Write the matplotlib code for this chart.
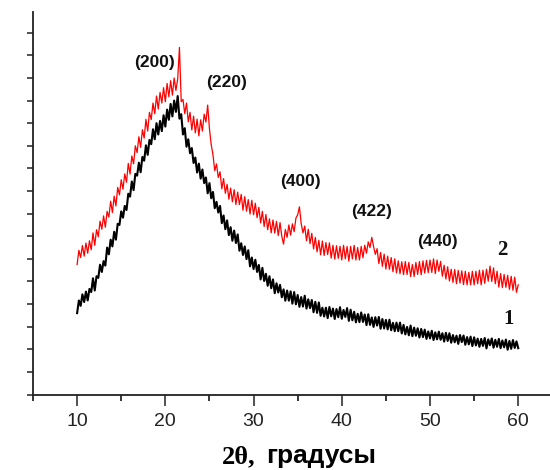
import numpy as np
import matplotlib
matplotlib.use("Agg")
from matplotlib import pyplot as plt

# scan 10..60 deg, step 0.2 (arbitrary units)
black = [
    3.6, 4.16, 3.92, 4.43, 4.09,
    4.55, 4.16, 4.67, 4.53, 5.14,
    4.6, 5.23, 5.16, 5.74, 5.42,
    5.9, 5.7, 6.5, 6.2, 6.85,
    6.55, 7.2, 6.85, 7.55, 7.5,
    8.1, 7.82, 8.34, 8.16, 8.88,
    8.75, 9.42, 9.04, 9.76, 9.68,
    10.25, 9.83, 10.51, 10.34, 11.02,
    10.6, 11.26, 11.07, 11.73, 11.29,
    12.0, 11.5, 12.1, 11.65, 12.35,
    11.85, 12.6, 12.15, 12.85, 12.3,
    13.0, 12.5, 13.2, 12.2, 12.4,
    11.5, 11.78, 10.96, 11.29, 10.67,
    10.9, 10.24, 10.48, 9.82, 10.21,
    9.55, 9.95, 9.35, 9.6, 8.9,
    9.35, 8.68, 8.96, 8.24, 8.52,
    8.05, 8.34, 7.58, 7.92, 7.31,
    7.7, 7.05, 7.4, 6.8, 7.25,
    6.7, 7.08, 6.36, 6.69, 6.17,
    6.55, 5.99, 6.38, 5.67, 6.06,
    5.55, 5.96, 5.42, 5.73, 5.09,
    5.6, 5.02, 5.34, 4.81, 5.23,
    4.7, 5.09, 4.48, 4.92, 4.51,
    4.85, 4.3, 4.65, 4.15, 4.6,
    4.15, 4.56, 4.02, 4.53, 3.99,
    4.4, 3.88, 4.31, 3.89, 4.37,
    3.8, 4.21, 3.82, 4.18, 3.64,
    4.1, 3.61, 4.07, 3.48, 3.84,
    3.45, 3.84, 3.38, 3.87, 3.46,
    3.8, 3.34, 3.78, 3.42, 3.86,
    3.35, 3.74, 3.43, 3.82, 3.26,
    3.75, 3.28, 3.66, 3.19, 3.57,
    3.2, 3.63, 3.21, 3.54, 3.07,
    3.55, 3.08, 3.41, 2.99, 3.42,
    3.05, 3.43, 2.91, 3.34, 2.92,
    3.3, 2.88, 3.31, 2.84, 3.17,
    2.8, 3.18, 2.8, 3.18, 2.7,
    3.08, 2.66, 2.99, 2.62, 3.05,
    2.58, 2.96, 2.6, 2.93, 2.52,
    2.9, 2.54, 2.87, 2.46, 2.79,
    2.48, 2.82, 2.41, 2.75, 2.44,
    2.78, 2.42, 2.71, 2.34, 2.73,
    2.37, 2.71, 2.29, 2.63, 2.31,
    2.6, 2.24, 2.63, 2.32, 2.61,
    2.2, 2.54, 2.22, 2.56, 2.14,
    2.53, 2.17, 2.47, 2.11, 2.46,
    2.15, 2.5, 2.04, 2.44, 2.18,
    2.48, 2.07, 2.42, 2.11, 2.46,
    2.05, 2.39, 2.09, 2.43, 1.98,
    2.37, 2.02, 2.41, 2.06, 2.35,
    2.05,
]

red = [
    5.75, 6.38, 6.06, 6.59, 6.12,
    6.7, 6.25, 6.8, 6.4, 7.15,
    6.6, 7.29, 6.98, 7.67, 7.31,
    7.9, 7.4, 8.1, 7.85, 8.55,
    8.05, 8.77, 8.34, 9.16, 8.83,
    9.5, 9.08, 9.76, 9.39, 10.22,
    9.75, 10.55, 10.2, 11.0, 10.7,
    11.4, 10.93, 11.71, 11.34, 12.17,
    11.65, 12.48, 12.16, 12.89, 12.42,
    13.2, 12.63, 13.36, 12.89, 13.57,
    12.95, 13.76, 13.17, 13.88, 13.24,
    14.0, 13.45, 13.95, 15.35, 12.95,
    13.05, 12.42, 12.89, 12.06, 12.48,
    11.7, 12.31, 11.57, 12.18, 11.44,
    12.15, 11.65, 12.4, 12.05, 12.8,
    11.75, 11.05, 10.6, 9.9, 10.2,
    9.6, 9.85, 9.1, 9.55, 8.9,
    9.3, 8.64, 9.13, 8.52, 9.06,
    8.4, 8.95, 8.4, 8.85, 8.15,
    8.75, 8.11, 8.62, 7.98, 8.59,
    7.95, 8.46, 7.82, 8.28, 7.59,
    8.1, 7.43, 7.96, 7.29, 7.77,
    7.15, 7.72, 7.14, 7.66, 7.03,
    7.6, 7.0, 6.65, 7.3, 6.95,
    7.5, 7.05, 7.55, 7.2, 7.8,
    7.95, 8.3, 7.55, 7.15, 7.45,
    6.8, 7.31, 6.67, 7.13, 6.44,
    6.95, 6.31, 6.82, 6.18, 6.79,
    6.15, 6.72, 6.19, 6.71, 6.03,
    6.6, 5.99, 6.58, 6.02, 6.56,
    5.95, 6.6, 6.0, 6.55, 5.9,
    6.55, 6.0, 6.6, 5.95, 6.5,
    5.95, 6.55, 6.05, 6.6, 6.25,
    6.75, 6.5, 6.95, 6.55, 6.2,
    6.45, 5.79, 6.28, 5.67, 6.21,
    5.55, 6.12, 5.54, 6.06, 5.43,
    6.0, 5.38, 5.91, 5.34, 5.87,
    5.3, 5.88, 5.31, 5.84, 5.22,
    5.75, 5.22, 5.84, 5.31, 5.88,
    5.3, 5.91, 5.37, 5.93, 5.39,
    5.95, 5.4, 6.0, 5.35, 5.95,
    5.45, 5.89, 5.23, 5.72, 5.11,
    5.65, 5.02, 5.54, 4.96, 5.53,
    4.9, 5.49, 4.93, 5.47, 4.86,
    5.45, 4.85, 5.4, 4.85, 5.45,
    4.85, 5.45, 4.9, 5.5, 4.85,
    5.5, 4.92, 5.54, 5.01, 5.68,
    5.0, 5.6, 4.9, 5.45, 4.75,
    5.35, 4.73, 5.31, 4.74, 5.27,
    4.65, 5.23, 4.61, 5.19, 4.52,
    4.85,
]

peak_labels = ["(200)", "(220)", "(400)", "(422)", "(440)"]
peak_x = [18.8, 26.9, 35.3, 43.4, 50.8]
peak_y = [14.7, 13.8, 9.4, 8.1, 6.75]

curve_names = ["1", "2"]
curve_name_x = [58.9, 58.2]
curve_name_y = [3.35, 6.4]

two_theta = np.linspace(10, 60, len(black))

fig = plt.figure(figsize=(5.5, 4.7), dpi=100)
ax = fig.add_axes([0.06, 0.1606, 0.94, 0.814])

ax.plot(two_theta, red, color="#ff0000", lw=0.9)
ax.plot(two_theta, black, color="black", lw=1.5)

for lab, x, y in zip(peak_labels, peak_x, peak_y):
    ax.text(x, y, lab, ha="center", va="center", fontsize=12.5,
            fontweight="bold", family="Liberation Sans", color="#111111")
for lab, x, y in zip(curve_names, curve_name_x, curve_name_y):
    ax.text(x, y, lab, ha="center", va="center", fontsize=15,
            fontweight="bold", family="Liberation Serif", color="#111111")

ax.set_xlim(5, 63.6)
ax.set_ylim(0, 16.92)
ax.spines["top"].set_visible(False)
ax.spines["right"].set_visible(False)
for s in ("left", "bottom"):
    ax.spines[s].set_linewidth(1.3)
    ax.spines[s].set_color("#222222")

ax.set_xticks([10, 20, 30, 40, 50, 60])
ax.set_xticks([5, 15, 25, 35, 45, 55], minor=True)
ax.set_yticks(range(0, 17))
ax.set_yticklabels([])
ax.tick_params(axis="x", which="major", direction="out", length=8, width=1.1,
               labelsize=14, pad=5, colors="#222222")
ax.tick_params(axis="x", which="minor", direction="out", length=4.5, width=1.1)
ax.tick_params(axis="y", direction="out", length=4, width=1.1, colors="#222222")
for t in ax.get_xticklabels():
    t.set_family("Liberation Sans")

fig.text(0.404, 0.015, "2θ,", ha="left", va="baseline", fontsize=19,
         fontweight="bold", family="Liberation Serif")
fig.text(0.484, 0.015, "градусы", ha="left", va="baseline", fontsize=19,
         fontweight="bold", family="Liberation Sans")

fig.savefig("out.png", dpi=100)
